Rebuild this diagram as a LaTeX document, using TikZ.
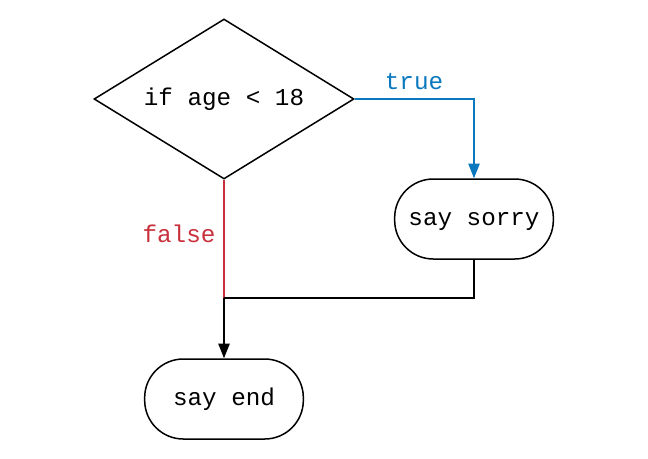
\documentclass[tikz,border=0pt]{standalone}
\usepackage{fontspec}
\setmonofont{Liberation Mono}
\usetikzlibrary{shapes.geometric,arrows.meta}
\definecolor{truecol}{HTML}{0A78BE}
\definecolor{falsecol}{HTML}{C8303C}
\tikzset{
  x=0.75pt, y=-0.75pt,
  every node/.style={font=\ttfamily\fontsize{18.2}{21}\selectfont, text height=15.2pt, text depth=5.5pt},
  decision/.style={diamond, draw, line width=1.5pt*0.75, inner sep=0pt, minimum width=195pt, minimum height=120pt, aspect=1.625},
  terminal/.style={draw, line width=1.5pt*0.75, rounded corners=29pt, minimum width=119pt, minimum height=60pt, inner sep=0pt},
  conn/.style={line width=1.5pt*0.75},
  arr/.style={conn, -{Triangle[length=11pt,width=8.5pt]}},
  lbl/.style={inner sep=0pt}
}
\begin{document}
\begin{tikzpicture}
\useasboundingbox (0,0) rectangle (648,458);
\node[decision] (d) at (224,99) {if age < 18};
\node[terminal] (s) at (474,219) {say sorry};
\node[terminal] (e) at (224,399) {say end};
\coordinate (j) at (224,298);
\coordinate (c) at (474,99);
\draw[arr, truecol] (d.east) -- (c) -- (s.north);
\node[lbl, text=truecol] (t) at (414,83) {true};
\draw[conn, falsecol] (d.south) -- (j);
\node[lbl, text=falsecol] (f) at (179,236) {false};
\draw[conn] (s.south) |- (j);
\draw[arr] (j) -- (e.north);
\end{tikzpicture}
\end{document}
